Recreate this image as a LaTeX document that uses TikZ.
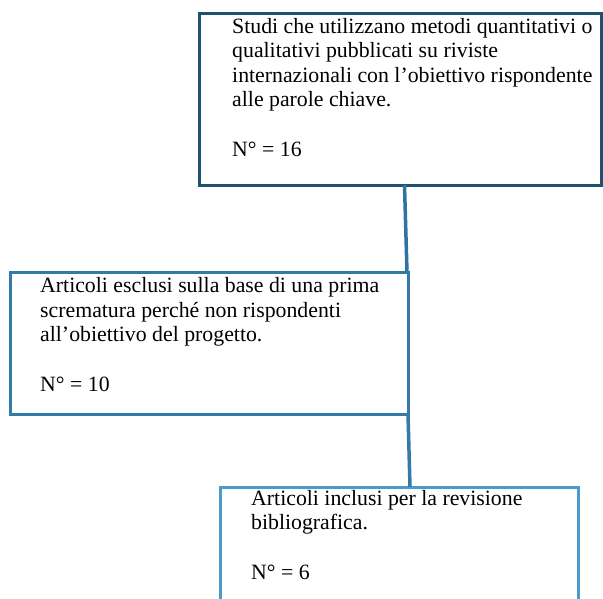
\documentclass[tikz,border=0pt]{standalone}
\usepackage{fontspec}
\setmainfont{Liberation Serif}
\definecolor{topc}{RGB}{30,82,112}
\definecolor{midc}{RGB}{52,122,166}
\definecolor{botc}{RGB}{74,156,204}
\definecolor{conc}{RGB}{46,116,160}
\begin{document}
\begin{tikzpicture}[x=1pt,y=-1pt,
  box/.style={draw, line width=3pt, anchor=north west, inner sep=0pt, outer sep=0pt},
  txt/.style={anchor=base west, inner sep=0pt, align=left, text=black,
    font=\fontsize{21.8}{24.6}\selectfont},
  conn/.style={line width=3.5pt}]
\useasboundingbox (0,0) rectangle (603,598);
\clip (0,0) rectangle (603,598);
\node[box, draw=topc, minimum width=402pt, minimum height=172pt] (top) at (199.5,13) {};
\node[box, draw=midc, minimum width=398pt, minimum height=142pt] (mid) at (10,272) {};
\node[box, draw=botc, minimum width=358pt, minimum height=140pt] (bot) at (220,487) {};
\draw[conn, draw=conc] ([xshift=205pt]top.south west) -- ([xshift=-1pt]mid.north east);
\draw[conn, draw=midc] (mid.south east) -- ([xshift=190pt]bot.north west);
\node[txt] (ttop) at (232,156) {Studi che utilizzano metodi quantitativi o\\qualitativi pubblicati su riviste\\internazionali con l’obiettivo rispondente\\alle parole chiave.\\[24.6pt]N° = 16};
\node[txt] (tmid) at (40,391) {Articoli esclusi sulla base di una prima\\scrematura perché non rispondenti\\all’obiettivo del progetto.\\[24.6pt]N° = 10};
\node[txt] (tbot) at (251,579) {Articoli inclusi per la revisione\\bibliografica.\\[24.6pt]N° = 6};
\end{tikzpicture}
\end{document}
